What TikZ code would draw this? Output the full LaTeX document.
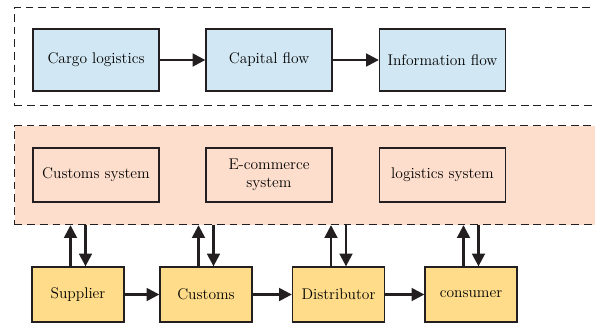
\documentclass[tikz,border=0pt]{standalone}
\usepackage{tikz}
\usetikzlibrary{arrows.meta}
\usetikzlibrary{positioning}
\definecolor{mblue}{RGB}{209, 231, 243}
\definecolor{mpeach}{RGB}{253, 221, 203}
\definecolor{myellow}{RGB}{254, 220, 138}
\definecolor{mdark}{RGB}{35, 31, 32}

\tikzset{
  flowbox/.style={draw=mdark, line width=0.9pt, fill=mblue, minimum width=3.15cm, minimum height=1.55cm, align=center},
  sysbox/.style={draw=mdark, line width=0.9pt, minimum width=3.15cm, minimum height=1.35cm, align=center},
  chainbox/.style={draw=mdark, line width=0.9pt, fill=myellow, minimum width=2.3cm, minimum height=1.375cm, align=center},
  band/.style={draw=mdark, line width=0.8pt, dash pattern=on 5.5pt off 3.5pt, anchor=north west, inner sep=0pt},
  arr/.style={draw=mdark, line width=1.7pt, -{Triangle[length=9pt, width=9pt]}}
}

\begin{document}
\begin{tikzpicture}[x=0.025cm, y=-0.025cm, font=\fontsize{11}{13}\selectfont]
      \clip (0, 0) rectangle (595, 325);

      % dashed bands
      \node [band, minimum width=15.3cm, minimum height=2.45cm] (flowband) at (14, 7) {};
      \node [band, fill=mpeach, minimum width=15.3cm, minimum height=2.475cm] (sysband) at (14, 125) {};

      % flows
      \node [flowbox] (cargo) at (96, 60) {Cargo logistics};
      \node [flowbox] (capital) at (269, 60) {Capital flow};
      \node [flowbox] (info) at (442.5, 60) {Information flow};
      \draw [arr] (cargo) -- (capital);
      \draw [arr] (capital) -- (info);

      % systems
      \node [sysbox] (custsys) at (96, 175) {Customs system};
      \node [sysbox] (ecomsys) at (269, 175) {E-commerce\\system};
      \node [sysbox] (logsys) at (442.5, 175) {logistics system};

      % supply chain
      \node [chainbox] (supplier) at (78, 294.5) {Supplier};
      \node [chainbox] (customs) at (206, 294.5) {Customs};
      \node [chainbox] (distrib) at (338.5, 294.5) {Distributor};
      \node [chainbox] (consumer) at (471, 294.5) {consumer};
      \draw [arr] (supplier) -- (customs);
      \draw [arr] (customs) -- (distrib);
      \draw [arr] (distrib) -- (consumer);

      \foreach \n in {supplier, customs, distrib, consumer} {
        \draw [arr] ([xshift=-0.1875cm]\n.north) -- ([xshift=-0.1875cm]\n.north |- sysband.south);
        \draw [arr] ([xshift=0.1875cm]\n.north |- sysband.south) -- ([xshift=0.1875cm]\n.north);
      }
    \end{tikzpicture}
\end{document}
